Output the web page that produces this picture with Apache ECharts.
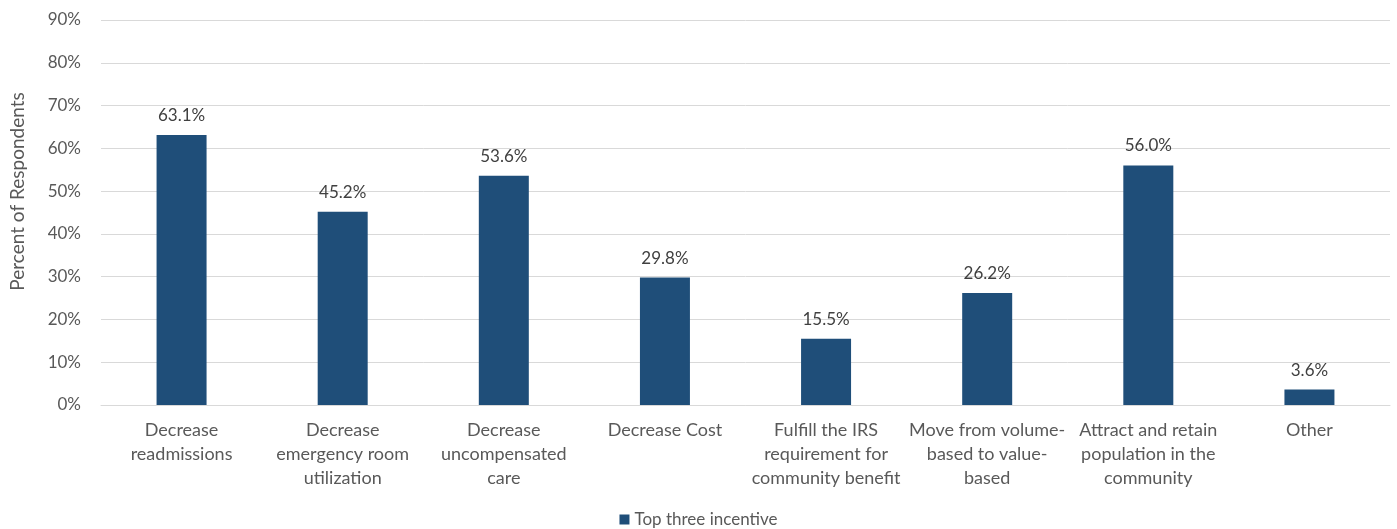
<!DOCTYPE html>
<html><head><meta charset="utf-8">
<script src="https://cdn.jsdelivr.net/npm/echarts@6/dist/echarts.min.js"></script>
<style>html,body{margin:0;padding:0;background:#fff}#c{width:1397px;height:529px}</style>
</head><body><div id="c"></div>
<script>
const categories = [
  "Decrease\nreadmissions",
  "Decrease\nemergency room\nutilization",
  "Decrease\nuncompensated\ncare",
  "Decrease Cost",
  "Fulfill the IRS\nrequirement for\ncommunity benefit",
  "Move from volume-\nbased to value-\nbased",
  "Attract and retain\npopulation in the\ncommunity",
  "Other"
];
const values = [63.1, 45.2, 53.6, 29.8, 15.5, 26.2, 56.0, 3.6];
const seriesName = "Top three incentive";
const yAxisName = "Percent of Respondents";

const font = "Lato, 'Open Sans', sans-serif";
const chart = echarts.init(document.getElementById('c'));
chart.setOption({
  animation: false,
  textStyle: {fontFamily: font},
  grid: {left: 100, right: 7, top: 20, bottom: 124, containLabel: false},
  legend: {
    top: 511, left: 'center', padding: 0, itemWidth: 10, itemHeight: 10, itemGap: 5,
    icon: 'rect',
    textStyle: {color: '#595959', fontSize: 17, fontFamily: font},
    data: [seriesName]
  },
  xAxis: {
    type: 'category', data: categories,
    axisLine: {lineStyle: {color: '#d9d9d9'}},
    axisTick: {show: false},
    axisLabel: {color: '#595959', fontSize: 18, lineHeight: 24, margin: 13, interval: 0, fontFamily: font}
  },
  yAxis: {
    type: 'value', min: 0, max: 90, interval: 10,
    name: yAxisName, nameLocation: 'middle', nameGap: 74, nameRotate: 90,
    nameTextStyle: {color: '#595959', fontSize: 19, fontFamily: font, padding: [0, 0, 0, 42]},
    axisLabel: {formatter: '{value}%', color: '#595959', fontSize: 17, margin: 20, fontFamily: font},
    splitLine: {lineStyle: {color: '#d9d9d9'}},
    axisLine: {show: false}, axisTick: {show: false}
  },
  series: [{
    name: seriesName, type: 'bar', data: values, barWidth: 50,
    itemStyle: {color: '#1F4E79'},
    label: {show: true, position: 'top', distance: 11, color: '#404040', fontSize: 17,
      fontFamily: font, formatter: p => p.value.toFixed(1) + '%'}
  }]
});
</script></body></html>
